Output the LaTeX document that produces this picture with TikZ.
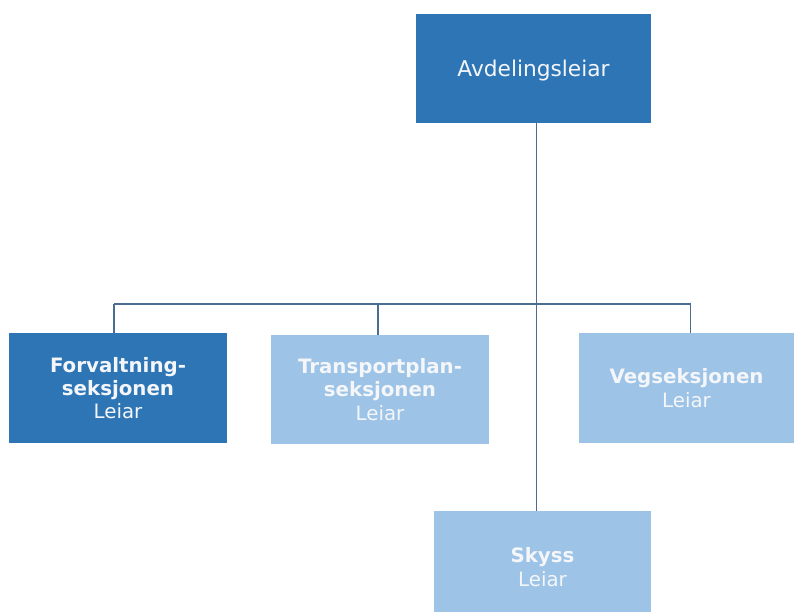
\documentclass[tikz,border=0pt]{standalone}
\usepackage{fontspec}
\setmainfont{DejaVu Sans}
\definecolor{darkbox}{HTML}{2E75B6}
\definecolor{lightbox}{HTML}{9DC3E6}
\definecolor{linkc}{HTML}{4A6E92}
\definecolor{txt}{HTML}{F4F6FA}
\begin{document}
\begin{tikzpicture}[x=1pt,y=-1pt,
  boxbase/.style={rectangle, inner sep=0pt, align=center, text=txt,
    font=\fontsize{19.8}{23.3}\selectfont},
  darkrect/.style={boxbase, fill=darkbox},
  lightrect/.style={boxbase, fill=lightbox},
  link/.style={draw=linkc, line width=1.8pt}]
\useasboundingbox (0,0) rectangle (794,612);
\node[darkrect, minimum width=235pt, minimum height=109pt, text depth=0pt,
  font=\fontsize{21.7}{26}\selectfont] (top) at (533.5,68.5) {Avdelingsleiar};
\node[darkrect, minimum width=218pt, minimum height=110pt] (forv) at (118,388)
  {\textbf{Forvaltning-}\\\textbf{seksjonen}\\Leiar};
\node[lightrect, minimum width=218pt, minimum height=109pt] (trans) at (380,389.5)
  {\textbf{Transportplan-}\\\textbf{seksjonen}\\Leiar};
\node[lightrect, minimum width=215pt, minimum height=110pt] (veg) at (686.5,388)
  {\textbf{Vegseksjonen}\\Leiar};
\node[lightrect, minimum width=217pt, minimum height=112pt] (skyss) at (542.5,567)
  {\textbf{Skyss}\\Leiar};
\coordinate (bus) at (536.5,304);
\coordinate (j1) at (114.3,304);
\coordinate (j2) at (378.3,304);
\coordinate (j3) at (690.5,304);
\draw[link] (top.south -| bus) -- (skyss.north -| bus);
\draw[link] (j1) -- (j3);
\draw[link] (j1) -- (j1 |- forv.north);
\draw[link] (j2) -- (j2 |- trans.north);
\draw[link] (j3) -- (j3 |- veg.north);
\end{tikzpicture}
\end{document}
